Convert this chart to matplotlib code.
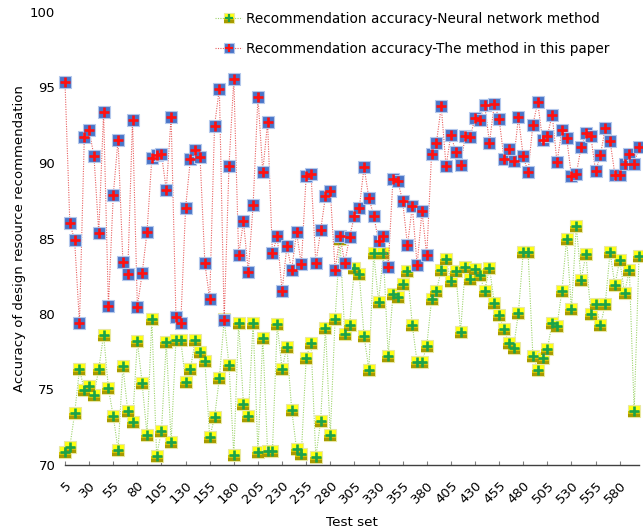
import matplotlib
matplotlib.use("Agg")
import matplotlib.pyplot as plt
import numpy as np
from matplotlib.lines import Line2D
from matplotlib.path import Path
from matplotlib.legend_handler import HandlerTuple

# Test set identifiers
test_sets = list(range(5, 601, 5))

# Recommendation accuracy of the neural network method (%)
acc_neural = [
    70.84, 71.21, 73.42, 76.35, 74.96, 75.24, 74.63, 76.35, 78.64, 75.07,
    73.26, 70.99, 76.56, 73.59, 72.82, 78.22, 75.40, 72.00, 79.65, 70.62,
    72.27, 78.15, 71.50, 78.28, 78.28, 75.51, 76.35, 78.26, 77.49, 76.89,
    71.83, 73.15, 75.75, 79.65, 76.61, 70.66, 79.43, 74.03, 73.22, 79.43,
    70.84, 78.44, 70.90, 70.90, 79.32, 76.35, 77.84, 73.66, 71.06, 70.73,
    77.07, 78.11, 70.51, 72.93, 79.10, 71.98, 79.69, 84.94, 78.66, 79.25,
    83.07, 82.62, 78.55, 76.30, 84.01, 80.80, 84.01, 77.22, 81.30, 81.15,
    81.96, 82.84, 79.27, 76.79, 76.79, 77.89, 80.97, 81.52, 82.91, 83.61,
    82.18, 82.84, 78.81, 83.13, 82.29, 82.95, 82.56, 81.52, 83.07, 80.75,
    79.91, 79.03, 78.11, 77.78, 80.09, 84.10, 84.10, 77.22, 76.30, 77.11,
    77.67, 79.43, 79.21, 81.52, 84.98, 80.31, 85.86, 82.25, 83.95, 79.98,
    80.64, 79.25, 80.64, 84.12, 81.90, 83.57, 81.41, 82.89, 73.55, 83.84,
]

# Recommendation accuracy of the proposed method (%)
acc_proposed = [
    95.36, 86.04, 84.87, 79.38, 91.70, 92.16, 90.47, 85.38, 93.35, 80.53,
    87.85, 91.55, 83.46, 82.62, 92.87, 80.49, 82.69, 85.42, 90.31, 90.51,
    90.60, 88.20, 93.05, 79.83, 79.38, 87.03, 90.27, 90.89, 90.40, 83.35,
    80.97, 92.47, 94.92, 79.58, 89.83, 95.56, 83.90, 86.15, 82.80, 87.21,
    94.37, 89.43, 92.69, 84.01, 85.16, 81.52, 84.50, 82.91, 85.42, 83.28,
    89.17, 89.30, 83.35, 85.53, 87.81, 88.14, 82.91, 85.16, 83.39, 85.11,
    86.48, 86.99, 89.73, 87.68, 86.52, 84.83, 85.16, 83.13, 88.97, 88.79,
    87.47, 84.54, 87.14, 83.24, 86.81, 83.90, 90.62, 91.33, 93.75, 89.78,
    91.88, 90.73, 89.89, 91.81, 91.72, 92.98, 92.87, 93.86, 91.33, 93.90,
    92.93, 90.29, 90.93, 90.12, 93.02, 90.45, 89.39, 92.54, 94.01, 91.55,
    91.81, 93.20, 90.05, 92.16, 91.66, 89.12, 89.28, 91.06, 91.99, 91.81,
    89.45, 90.51, 92.31, 91.48, 89.23, 89.23, 89.96, 90.62, 89.94, 91.04,
]

x_ticks = list(range(5, 581, 25))
y_ticks = [70, 75, 80, 85, 90, 95, 100]

label_neural = "Recommendation accuracy-Neural network method"
label_proposed = "Recommendation accuracy-The method in this paper"

W, H = 643, 531
fig = plt.figure(figsize=(W / 100, H / 100), dpi=100)
ax = fig.add_axes([65 / W, 66 / H, 574 / W, 453 / H])

# lower-half and lower-quarter squares used to shade the yellow markers
lower_half = Path([(-1, -1), (1, -1), (1, 0), (-1, 0), (-1, -1)])
lower_quarter = Path([(-1, -1), (1, -1), (1, -0.45), (-1, -0.45), (-1, -1)])

MS = 8.0       # square size (pt)
PS = 7.0       # plus size (pt)
PW = 1.9       # plus stroke (pt)
LINE_NEURAL = dict(linestyle=(0, (1, 1.2)), color="#9ED46C", linewidth=0.8)
LINE_PROPOSED = dict(linestyle=(0, (1, 1.2)), color="#E86060", linewidth=0.8)


def neural_styles(scale=1.0):
    return [
        dict(marker="s", markersize=MS * scale, markerfacecolor="#FFFF10",
             markeredgecolor="#E8E8A0", markeredgewidth=0.8),
        dict(marker=lower_half, markersize=MS * scale,
             markerfacecolor="#D4C400", markeredgewidth=0),
        dict(marker=lower_quarter, markersize=MS * scale,
             markerfacecolor="#A89A00", markeredgewidth=0),
        dict(marker="+", markersize=PS * scale, markeredgecolor="#1BA34A",
             markeredgewidth=PW * scale),
    ]


def proposed_styles(scale=1.0):
    return [
        dict(marker="s", markersize=MS * scale, markerfacecolor="#4A74C8",
             markeredgecolor="#B4C8EC", markeredgewidth=0.8),
        dict(marker="+", markersize=PS * scale, markeredgecolor="#FF1010",
             markeredgewidth=PW * scale),
    ]


# neural network series: dotted line then layered markers
ax.plot(test_sets, acc_neural, zorder=2, clip_on=False, **LINE_NEURAL)
for i, st in enumerate(neural_styles()):
    ax.plot(test_sets, acc_neural, linestyle="none", clip_on=False,
            zorder=3 + i * 0.01, **st)

# proposed method series drawn above
ax.plot(test_sets, acc_proposed, zorder=4, clip_on=False, **LINE_PROPOSED)
for i, st in enumerate(proposed_styles()):
    ax.plot(test_sets, acc_proposed, linestyle="none", clip_on=False,
            zorder=5 + i * 0.01, **st)

ax.set_xlim(5, 600)
ax.set_ylim(70, 100)

for s in ["left", "top", "right"]:
    ax.spines[s].set_visible(False)
ax.spines["bottom"].set_color("#404040")
ax.spines["bottom"].set_linewidth(1.0)

ax.set_xticks(x_ticks)
ax.set_xticklabels([str(v) for v in x_ticks], rotation=45, ha="right",
                   rotation_mode="anchor", fontsize=9.5, color="#000000")
ax.tick_params(axis="x", direction="in", length=3, width=0.8, color="#808080",
               pad=10)
ax.set_yticks(y_ticks)
ax.set_yticklabels([str(v) for v in y_ticks], fontsize=9.5)
ax.tick_params(axis="y", length=0, pad=7)

ax.set_xlabel("Test set", fontsize=9.7, labelpad=7)
ax.set_ylabel("Accuracy of design resource recommendation", fontsize=9.5,
              labelpad=3)

# legend with layered marker handles
h_neural = tuple([Line2D([], [], **LINE_NEURAL)] +
                 [Line2D([], [], linestyle="none", **st)
                  for st in neural_styles(0.85)])
h_prop = tuple([Line2D([], [], **LINE_PROPOSED)] +
               [Line2D([], [], linestyle="none", **st)
                for st in proposed_styles(0.85)])
leg = ax.legend([h_neural, h_prop], [label_neural, label_proposed],
                handler_map={tuple: HandlerTuple(ndivide=1, pad=0)},
                loc="upper left", bbox_to_anchor=(215 / W, 1 - 12 / H),
                bbox_transform=fig.transFigure, frameon=False,
                fontsize=9.8, handlelength=2.0, handletextpad=0.3,
                labelspacing=1.15, borderpad=0, borderaxespad=0)

fig.savefig("out.png", dpi=100)
